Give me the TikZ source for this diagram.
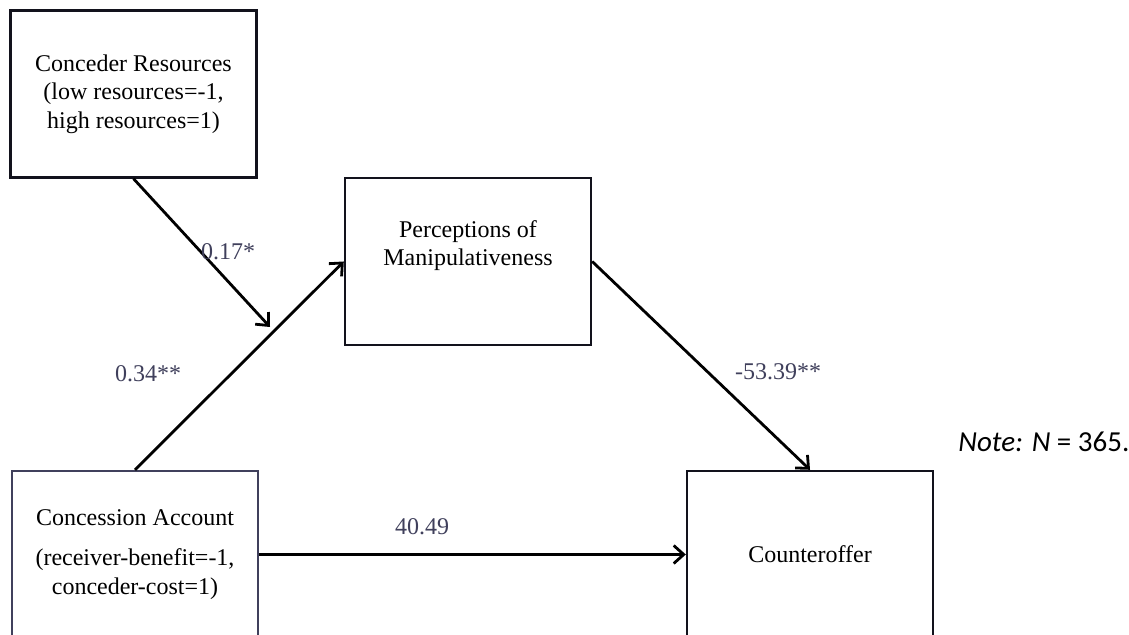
\documentclass[tikz,border=0pt]{standalone}
\usepackage{fontspec}
\setmainfont{Liberation Serif}
\newfontfamily\notefont{Carlito}
\usetikzlibrary{arrows.meta}
\definecolor{coefgray}{RGB}{64,64,92}
\definecolor{boxline}{RGB}{18,18,28}

\begin{document}
\begin{tikzpicture}[x=0.5pt, y=-0.5pt,
    var/.style={draw=boxline, line width=1.2pt, minimum width=123pt, minimum height=83.5pt,
      inner sep=0pt, align=center, font=\fontsize{12}{14.25}\selectfont},
    link/.style={draw=black, line width=1.4pt, -{Straight Barb[length=5pt, width=9pt, line width=1.4pt]}},
    coef/.style={text=coefgray, inner sep=0pt, font=\fontsize{12}{14.25}\selectfont}]

      \clip (0,0) rectangle (1129,635);
      \fill[white] (0,0) rectangle (1129,635);

      \node[var] (cr) at (133.5,94) {Conceder Resources\\(low resources=-1,\\high resources=1)};
      \node[var] (pm) at (468,261.5) {Perceptions of\\Manipulativeness\\\strut};
      \node[var, draw=coefgray] (ca) at (135,554.5) {Concession Account\\[6pt](receiver-benefit=-1,\\conceder-cost=1)};
      \node[var] (co) at (810,554.5) {Counteroffer};
      \coordinate (mod) at (270,327);

      \draw[link] (ca.north) -- (pm.west);
      \draw[link] (cr.south) -- (mod);
      \draw[link] (pm.east) -- (co.north);
      \draw[link] (ca.east) -- (co.west);

      \node[coef] (b1) at (228,252) {0.17*};
      \node[coef] (a1) at (148,374) {0.34**};
      \node[coef] (b2) at (778,372) {-53.39**};
      \node[coef] (c1) at (422,527) {40.49};
      \node[anchor=base west, inner sep=0pt, font=\notefont\fontsize{14.5}{17}\selectfont] (note) at (958,452)
        {\textit{Note:} \textit{N} = 365.};

    \end{tikzpicture}
\end{document}
